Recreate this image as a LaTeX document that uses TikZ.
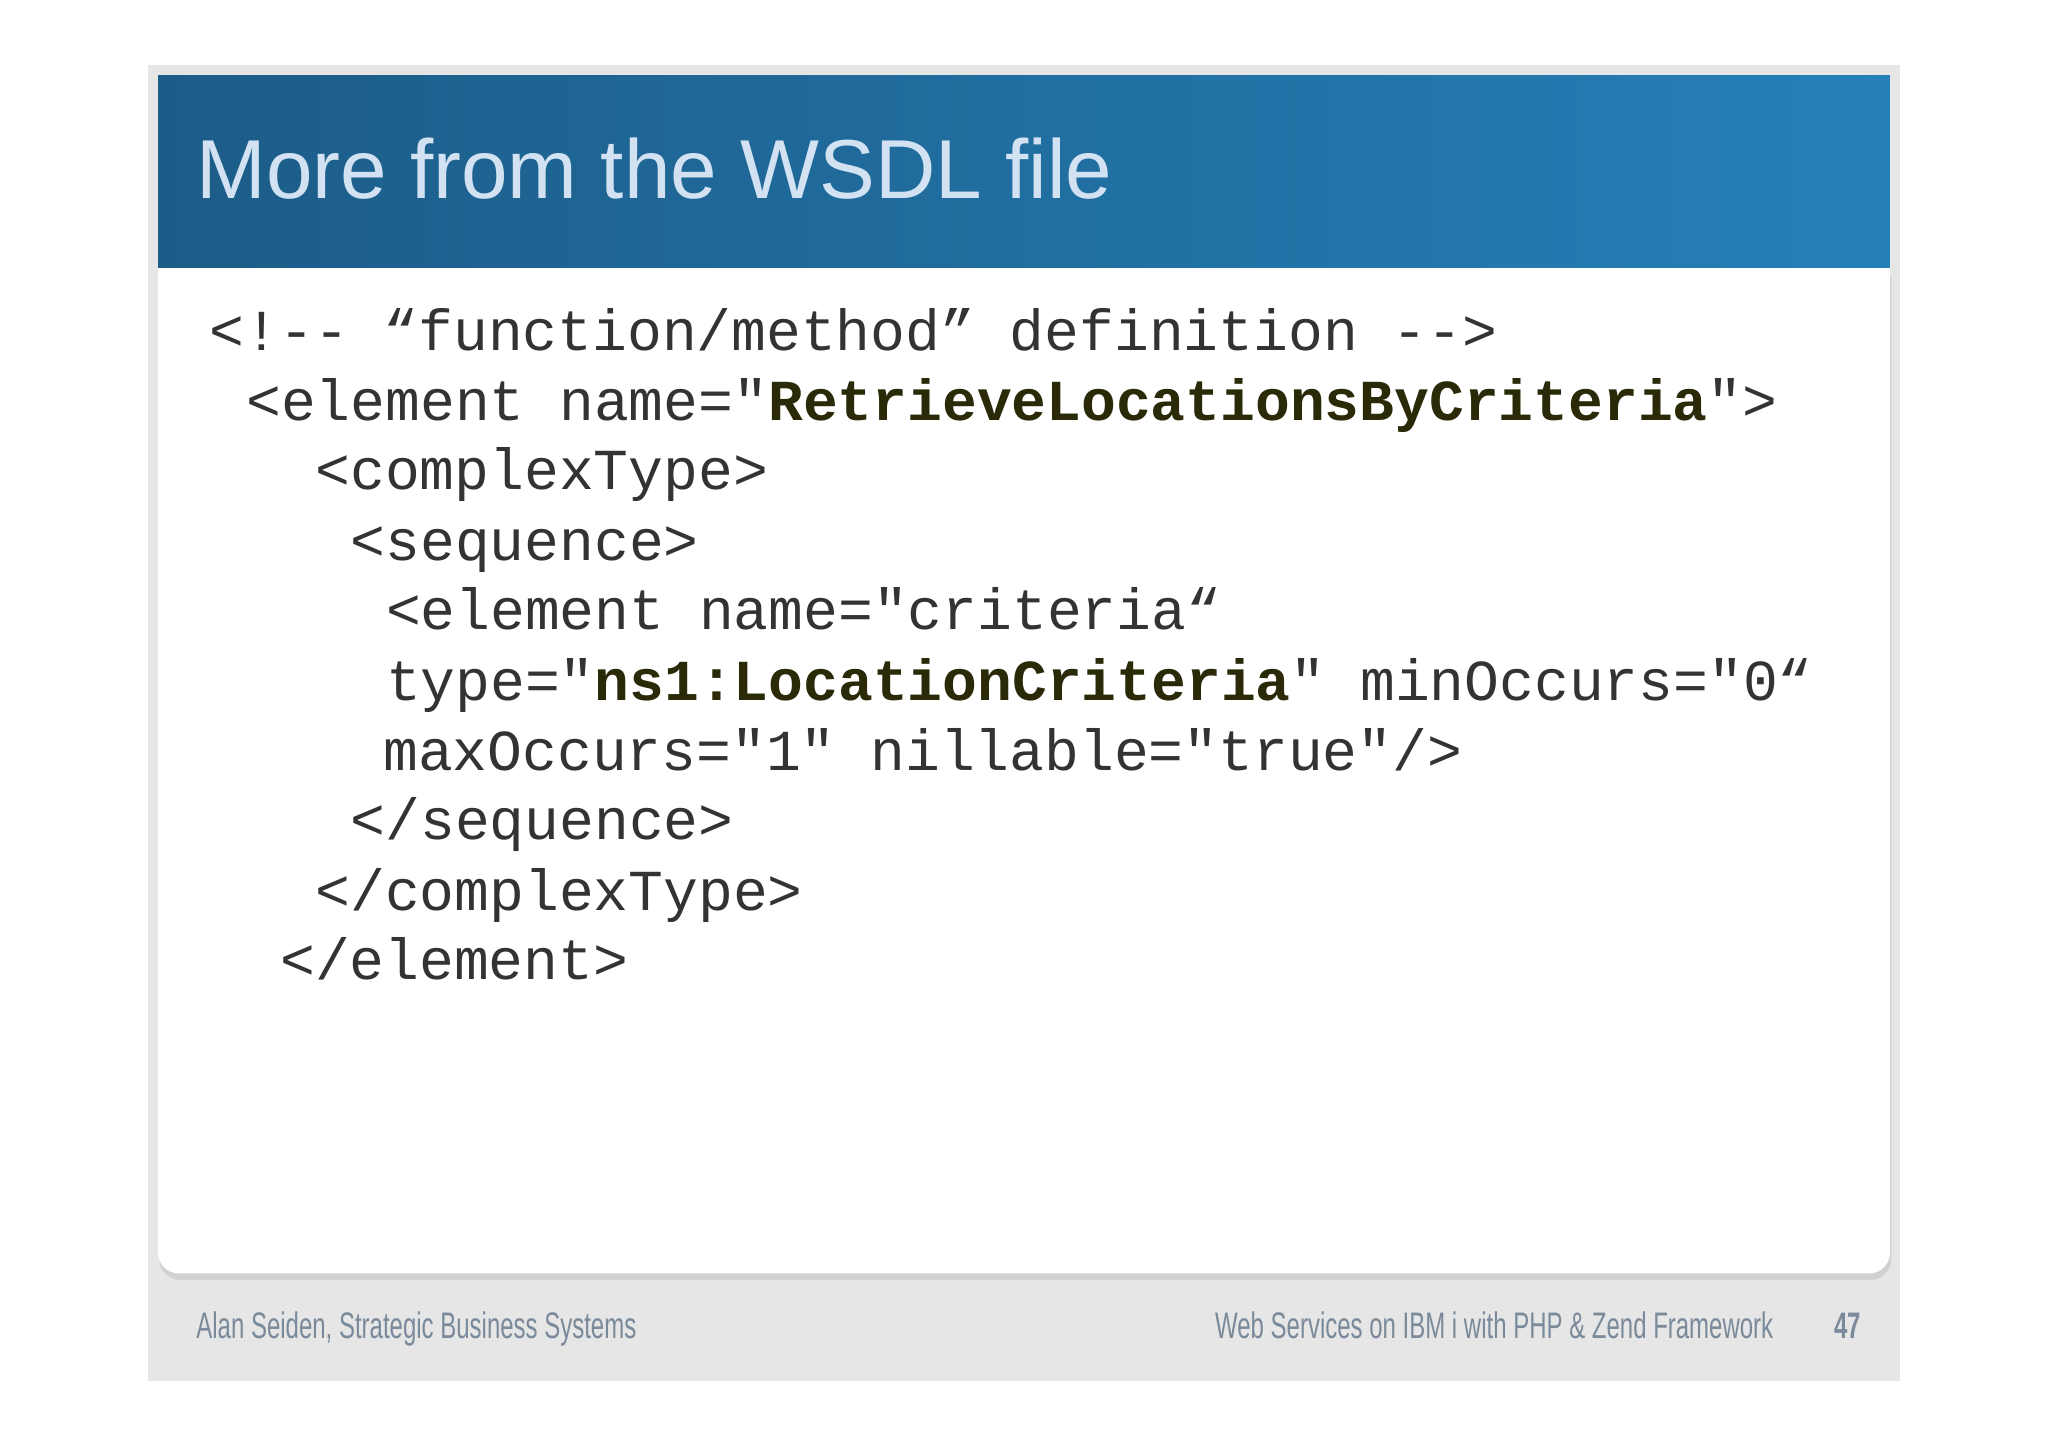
\documentclass[tikz,border=0pt]{standalone}
\usepackage{fontspec}
\setmainfont{Liberation Sans}
\newfontfamily\codefont{Liberation Mono}
\usetikzlibrary{shadows}
\definecolor{frame}{HTML}{E6E6E6}
\definecolor{hdrA}{HTML}{1C5C88}
\definecolor{hdrB}{HTML}{2580B8}
\definecolor{titlec}{HTML}{D2E2F2}
\definecolor{codec}{HTML}{333333}
\definecolor{boldc}{HTML}{2A2A08}
\definecolor{footc}{HTML}{7A8A9A}
\tikzset{
  codeline/.style={anchor=base west,inner sep=0pt,font=\codefont\fontsize{16.5}{18}\selectfont,text=codec},
  foot/.style={anchor=base west,inner sep=0pt,text=footc,font=\fontsize{10.5}{12}\selectfont,xscale=0.65}
}
\newcommand{\B}[1]{\textbf{\textcolor{boldc}{#1}}}
\begin{document}
\begin{tikzpicture}[x=0.01306cm,y=-0.01306cm]
\useasboundingbox (0,0) rectangle (1568,1108);
\fill[white] (0,0) rectangle (1568,1108);
\fill[frame] (113,50) rectangle (1455,1057);
\fill[black!18] (122,212) -- (1448,212) -- (1448,964) arc (0:90:16) -- (138,980) arc (90:180:16) -- cycle;
\fill[white] (121,205) -- (1447,205) -- (1447,959) arc (0:90:16) -- (137,975) arc (90:180:16) -- cycle;
\shade[left color=hdrA,right color=hdrB] (121,58) rectangle (1447,205);
\node[anchor=base west,inner sep=0pt,text=titlec,font=\fontsize{23.8}{28}\selectfont] (title) at (150,152) {More from the WSDL file};
\node[codeline] (l1) at (160,268) {<!-- “function/method” definition -->};
\node[codeline] (l2) at (188,322) {<element name="\B{RetrieveLocationsByCriteria}">};
\node[codeline] (l3) at (241,375) {<complexType>};
\node[codeline] (l4) at (268,429) {<sequence>};
\node[codeline] (l5) at (295,482) {<element name="criteria“};
\node[codeline] (l6) at (295,536) {type="\B{ns1:LocationCriteria}" minOccurs="0“};
\node[codeline] (l7) at (293,590) {maxOccurs="1" nillable="true"/>};
\node[codeline] (l8) at (268,643) {</sequence>};
\node[codeline] (l9) at (241,697) {</complexType>};
\node[codeline] (l10) at (214,750) {</element>};
\node[foot] (f1) at (150,1025) {Alan Seiden, Strategic Business Systems};
\node[foot,anchor=base east] (f2) at (1358,1025) {Web Services on IBM i with PHP \& Zend Framework};
\node[foot,anchor=base east,font=\bfseries\fontsize{10.5}{12}\selectfont] (f3) at (1425,1025) {47};
\end{tikzpicture}
\end{document}
